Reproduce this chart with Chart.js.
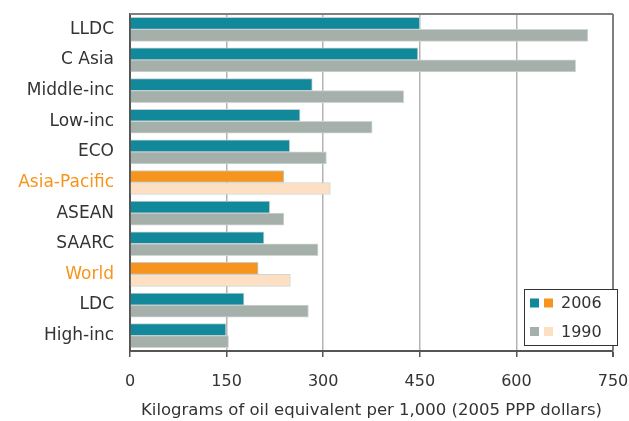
<!DOCTYPE html>
<html>
<head>
<meta charset="utf-8">
<script src="https://cdn.jsdelivr.net/npm/chart.js@4.4.1/dist/chart.umd.min.js"></script>
<style>
  html, body { margin: 0; padding: 0; background: #fff; }
  #wrap { width: 629px; height: 421px; position: relative; }
</style>
</head>
<body>
<div id="wrap"><canvas id="js-energy-chart"></canvas></div>
<script>
// Chart data
const categories = ["LLDC", "C Asia", "Middle-inc", "Low-inc", "ECO", "Asia-Pacific", "ASEAN", "SAARC", "World", "LDC", "High-inc"];
const values2006 = [450, 447, 283, 264, 248, 239, 217, 208, 199, 177, 149];
const values1990 = [711, 692, 425, 376, 305, 311, 239, 292, 249, 277, 153];
const highlighted = ["Asia-Pacific", "World"];
const xTicks = [0, 150, 300, 450, 600, 750];
const legendLabels = ["2006", "1990"];

// Colours
const teal = "#12889b", orange = "#f7941d";
const grey = "#a5b0aa", peach = "#fde0c3";
const fontFamily = "'DejaVu Sans', sans-serif";

const isHi = (c) => highlighted.includes(c);

// drop the label overflow padding so the layout padding places the plot
const noOverflow = (scale) => {
    scale.paddingTop = 0;
    scale.paddingBottom = 0;
    scale.paddingLeft = 0;
    scale.paddingRight = 0;
};

// Frame + legend box drawn on top of the plot
const framePlugin = {
    id: "frame",
    afterDraw(chart) {
        const ctx = chart.ctx;
        const a = chart.chartArea;
        ctx.save();
        // top border
        ctx.strokeStyle = "#7f7f7f";
        ctx.lineWidth = 2;
        ctx.beginPath();
        ctx.moveTo(a.left, a.top);
        ctx.lineTo(a.right, a.top);
        ctx.stroke();

        // legend
        const x0 = a.right - 89, y0 = a.bottom - 62, w = 93, h = 56;
        ctx.fillStyle = "#fff";
        ctx.fillRect(x0, y0, w, h);
        ctx.strokeStyle = "#333";
        ctx.lineWidth = 1;
        ctx.strokeRect(x0 + 0.5, y0 + 0.5, w, h);
        const rows = [[teal, orange], [grey, peach]];
        ctx.font = "16px " + fontFamily;
        ctx.textBaseline = "middle";
        rows.forEach((cols, i) => {
            const cy = y0 + 14 + i * 28.5;
            ctx.fillStyle = cols[0];
            ctx.fillRect(x0 + 6, cy - 4.5, 9, 9);
            ctx.fillStyle = cols[1];
            ctx.fillRect(x0 + 20, cy - 4.5, 9, 9);
            ctx.fillStyle = "#333";
            ctx.fillText(legendLabels[i], x0 + 37, cy + 1);
        });
        ctx.restore();
    },
};

new Chart(document.getElementById("js-energy-chart"), {
    type: "bar",
    data: {
        labels: categories,
        datasets: [
            {
                label: "2006",
                data: values2006,
                backgroundColor: categories.map((c) => (isHi(c) ? orange : teal)),
                borderColor: "#c3cdd1",
                borderWidth: 1,
                barThickness: 12,
            },
            {
                label: "1990",
                data: values1990,
                backgroundColor: categories.map((c) => (isHi(c) ? peach : grey)),
                borderColor: "#cfd5d3",
                borderWidth: 1,
                barThickness: 12,
            },
        ],
    },
    options: {
        indexAxis: "y",
        responsive: true,
        maintainAspectRatio: false,
        animation: false,
        categoryPercentage: 0.52,
        layout: { padding: { top: 14, right: 16, bottom: 0, left: 0 } },
        plugins: {
            legend: { display: false },
            tooltip: { enabled: false },
        },
        scales: {
            x: {
                min: 0,
                max: 750,
                afterBuildTicks: (scale) => {
                    scale.ticks = xTicks.map((v) => ({ value: v }));
                },
                afterFit: (scale) => {
                    scale.height = 70;
                    noOverflow(scale);
                },
                grid: {
                    color: (c) => (c.tick && c.tick.value === 750 ? "#7f7f7f" : c.tick && c.tick.value === 0 ? "rgba(0,0,0,0)" : "#b4b4b4"),
                    lineWidth: (c) => (c.tick && c.tick.value === 750 ? 2 : 1.5),
                    tickColor: "#555",
                    tickLength: 6,
                },
                border: { color: "#555", width: 2 },
                ticks: {
                    color: "#333",
                    padding: 15,
                    font: { family: fontFamily, size: 16 },
                },
                title: {
                    display: true,
                    text: "Kilograms of oil equivalent per 1,000 (2005 PPP dollars)",
                    color: "#333",
                    font: { family: fontFamily, size: 16.5 },
                    padding: { top: 0, bottom: 0 },
                },
            },
            y: {
                afterFit: (scale) => {
                    scale.width = 130;
                    noOverflow(scale);
                },
                grid: { display: false, drawTicks: false },
                border: { color: "#555", width: 2 },
                ticks: {
                    padding: 16,
                    color: (c) => (isHi(categories[c.index]) ? orange : "#333"),
                    font: { family: fontFamily, size: 17 },
                },
            },
        },
    },
    plugins: [framePlugin],
});
</script>
</body>
</html>
